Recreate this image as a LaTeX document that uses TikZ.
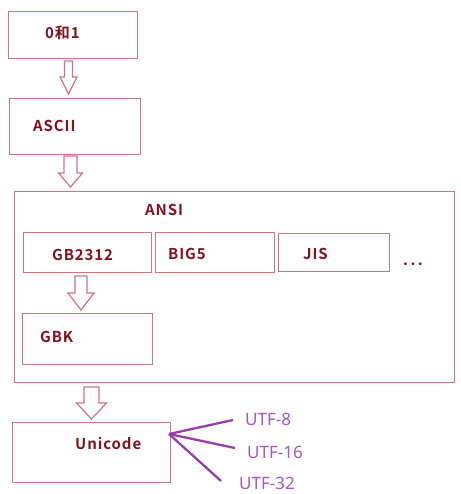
\documentclass[tikz,border=0pt]{standalone}
\usepackage{fontspec}
\newfontfamily\lblfont[LetterSpace=6]{Noto Sans CJK SC Bold}
\newfontfamily\utffont{Noto Sans}
\definecolor{boxcol}{RGB}{205,118,130}
\definecolor{txtcol}{RGB}{128,18,30}
\definecolor{linecol}{RGB}{150,62,170}
\definecolor{utfcol}{RGB}{165,88,185}
\newcommand\mkbox[5]{\node[box, minimum width={(#4-#2)*1pt}, minimum height={(#5-#3)*1pt}, anchor=north west] (#1) at (#2,#3) {};}
\newcommand\hollowarrow[6]{\draw[hollow] ({#1-#3},#2) -- ({#1+#3},#2) -- ({#1+#3},#5) -- ({#1+#4},#5) -- (#1,#6) -- ({#1-#4},#5) -- ({#1-#3},#5) -- cycle;}
\begin{document}
\begin{tikzpicture}[x=1pt,y=-1pt,
  box/.style={draw=boxcol, line width=1.4pt, inner sep=0pt, fill=white},
  lbl/.style={inner sep=0pt, anchor=base west, text=txtcol, font=\lblfont\fontsize{15}{15}\selectfont},
  utf/.style={inner sep=0pt, anchor=base west, text=utfcol, font=\utffont\fontsize{17}{17}\selectfont},
  hollow/.style={draw=boxcol, line width=1.2pt, fill=white, line join=miter},
  purp/.style={draw=linecol, line width=2.3pt}]
\useasboundingbox (0,0) rectangle (460,494);
\fill[white] (0,0) rectangle (460,494);
% boxes
\mkbox{b01}{8}{11}{137}{58}
\mkbox{ascii}{9}{98}{140}{154}
\mkbox{ansi}{14}{191}{454}{382}
\mkbox{gb}{23}{232}{151}{272}
\mkbox{big}{155}{232}{274}{272}
\mkbox{jis}{278}{233}{389}{271}
\mkbox{gbk}{22}{313}{152}{364}
\mkbox{uni}{12}{422}{170}{482}
% labels
\node[lbl] (t01) at (45,39) {0和1};
\node[lbl] (tascii) at (33,132) {ASCII};
\node[lbl] (tansi) at (145,215) {ANSI};
\node[lbl] (tgb) at (52,260) {GB2312};
\node[lbl] (tbig) at (168,259) {BIG5};
\node[lbl] (tjis) at (303,259) {JIS};
\node[lbl] (tdots) at (403,265) {.\,.\,.};
\node[lbl] (tgbk) at (40,342) {GBK};
\node[lbl] (tuni) at (75,449) {Unicode};
% hollow arrows
\hollowarrow{68.5}{61}{4}{8.5}{77}{94}
\hollowarrow{70.5}{156}{6.5}{12}{173}{187}
\hollowarrow{81}{276}{6}{13}{293}{310}
\hollowarrow{91.5}{387}{7.5}{15}{403}{419}
% UTF branches
\coordinate (hub) at (169,434);
\coordinate (e8) at (233,420);
\coordinate (e16) at (235,448);
\coordinate (e32) at (221,481);
\node[utf] (u8) at (245,425) {UTF-8};
\node[utf] (u16) at (247,458) {UTF-16};
\node[utf] (u32) at (239,489) {UTF-32};
\draw[purp] (hub) -- (e8);
\draw[purp] (hub) -- (e16);
\draw[purp] (hub) -- (e32);
\end{tikzpicture}
\end{document}
